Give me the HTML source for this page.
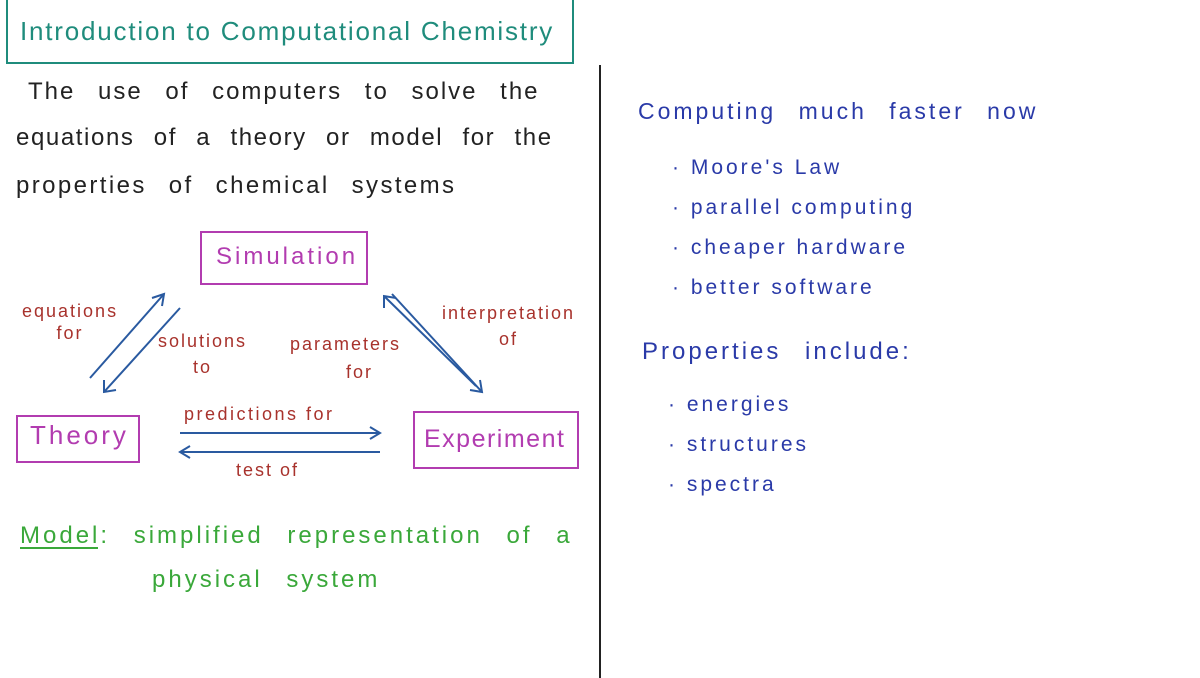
<!DOCTYPE html>
<html><head><meta charset="utf-8"><style>
body{margin:0;width:1200px;height:678px;background:#fff;position:relative;overflow:hidden;font-family:"Liberation Sans",sans-serif}
.t{position:absolute;white-space:nowrap;letter-spacing:3px}
</style></head><body>
<div style="position:absolute;left:6px;top:-2px;width:564px;height:62px;border:2px solid #1f8c7c"></div>
<div class="t" style="left:20px;top:16px;font-size:26px;color:#1f8c7c;letter-spacing:1.8px">Introduction to Computational Chemistry</div>
<div style="position:absolute;left:599px;top:65px;width:2px;height:613px;background:#222"></div>
<div class="t" style="left:28px;top:78px;font-size:24px;color:#222;letter-spacing:2px;word-spacing:14px">The use of computers to solve the</div>
<div class="t" style="left:16px;top:124px;font-size:24px;color:#222;letter-spacing:1.6px;word-spacing:11px">equations of a theory or model for the</div>
<div class="t" style="left:16px;top:172px;font-size:24px;color:#222;letter-spacing:2.4px;word-spacing:13px">properties of chemical systems</div>
<div style="position:absolute;left:200px;top:231px;width:164px;height:50px;border:2px solid #b23cb0"></div>
<div class="t" style="left:216px;top:243px;font-size:24px;color:#b23cb0">Simulation</div>
<div style="position:absolute;left:16px;top:415px;width:120px;height:44px;border:2px solid #b23cb0"></div>
<div class="t" style="left:30px;top:420px;font-size:26px;color:#b23cb0">Theory</div>
<div style="position:absolute;left:413px;top:411px;width:162px;height:54px;border:2px solid #b23cb0"></div>
<div class="t" style="left:424px;top:425px;font-size:25px;color:#b23cb0;letter-spacing:1.5px">Experiment</div>
<div class="t" style="left:22px;top:300px;font-size:18px;color:#a8322c;line-height:22px;text-align:center;letter-spacing:2px">equations<br>for</div>
<div class="t" style="left:158px;top:328px;font-size:18px;color:#a8322c;line-height:26px;text-align:center;letter-spacing:2px">solutions<br>to</div>
<div class="t" style="left:290px;top:330px;font-size:18px;color:#a8322c;line-height:28px;text-align:center;letter-spacing:2px">parameters<br>&nbsp;&nbsp;&nbsp;&nbsp;for</div>
<div class="t" style="left:442px;top:300px;font-size:18px;color:#a8322c;line-height:26px;text-align:center;letter-spacing:2px">interpretation<br>of</div>
<div class="t" style="left:184px;top:404px;font-size:18px;color:#a8322c;letter-spacing:2.5px">predictions for</div>
<div class="t" style="left:236px;top:460px;font-size:18px;color:#a8322c;letter-spacing:2px">test of</div>
<svg style="position:absolute;left:0;top:0" width="600" height="678" fill="none" stroke="#2a5aa0" stroke-width="2">
<path d="M90 378 L164 294 M152 298 L164 294 L162 306"/>
<path d="M180 308 L104 392 M104 380 L104 392 L116 390"/>
<path d="M392 294 L482 392 M470 390 L482 392 L480 380"/>
<path d="M476 386 L384 296 M384 308 L384 296 L396 298"/>
<path d="M180 433 L380 433 M370 427 L380 433 L370 439"/>
<path d="M380 452 L180 452 M190 446 L180 452 L190 458"/>
<path d="M20 548 L98 548" stroke="#3aa83a"/>
</svg>
<div class="t" style="left:20px;top:522px;font-size:24px;color:#3aa83a;word-spacing:14px">Model: simplified representation of a</div>
<div class="t" style="left:152px;top:566px;font-size:24px;color:#3aa83a;word-spacing:14px">physical system</div>
<div class="t" style="left:638px;top:98px;font-size:23px;color:#2a3aa8;word-spacing:13px">Computing much faster now</div>
<div class="t" style="left:672px;top:148px;font-size:21px;color:#2a3aa8;line-height:40px">· Moore's Law<br>· parallel computing<br>· cheaper hardware<br>· better software</div>
<div class="t" style="left:642px;top:338px;font-size:24px;color:#2a3aa8;word-spacing:14px">Properties include:</div>
<div class="t" style="left:668px;top:385px;font-size:21px;color:#2a3aa8;line-height:40px">· energies<br>· structures<br>· spectra</div>
</body></html>
